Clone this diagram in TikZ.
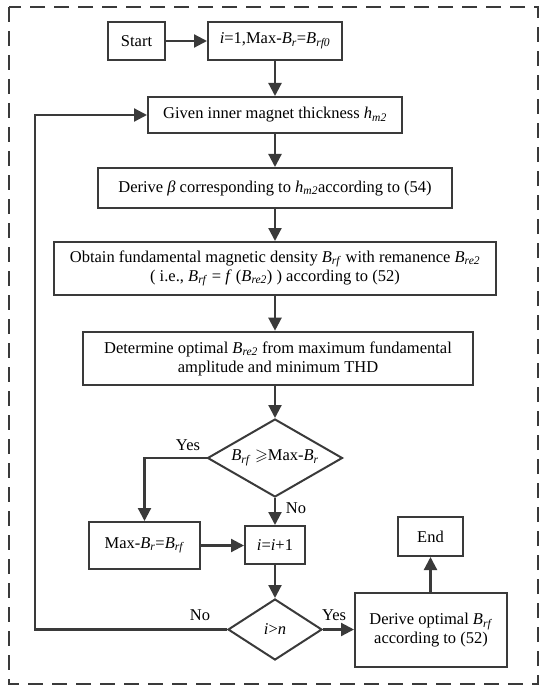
\documentclass[tikz,border=0pt]{standalone}
\usepackage{fontspec}
\usepackage{amssymb}
\setmainfont{Liberation Serif}
\usetikzlibrary{arrows.meta,shapes.geometric}
\newcommand{\vb}[2]{\textit{#1}\textsubscript{\textit{#2}}}
\definecolor{ink}{HTML}{3A3A3A}
\tikzset{
  box/.style={draw=ink, line width=2pt, rectangle, inner sep=0pt, align=center, font=\fontsize{16.5}{19}\selectfont},
  dia/.style={draw=ink, line width=2pt, diamond, inner sep=0pt, align=center, font=\fontsize{16.5}{19}\selectfont},
  arr/.style={draw=ink, line width=2.2pt, -{Triangle[length=13pt,width=13pt]}},
  lbl/.style={font=\fontsize{16.5}{19}\selectfont, inner sep=0pt}
}
\begin{document}
\begin{tikzpicture}[x=1pt,y=-1pt]
\useasboundingbox (0,0) rectangle (545,687);
\draw[ink, line width=2pt, dash pattern=on 15pt off 9pt] (9,7) rectangle (538,684);
\node[box, minimum width=57, minimum height=38] (start) at (136.5,41) {Start};
\node[box, minimum width=134, minimum height=38] (init) at (275,41) {\textit{i}=1,Max-\vb{B}{r}=\vb{B}{rf0}};
\node[box, minimum width=254, minimum height=36] (given) at (275,115) {Given inner magnet thickness \vb{h}{m2}};
\node[box, minimum width=354, minimum height=40] (derive) at (275,188) {Derive \textit{β} corresponding to \vb{h}{m2}according to (54)};
\node[box, minimum width=442, minimum height=53] (obtain) at (275,268.5) {Obtain fundamental magnetic density \vb{B}{rf} with remanence \vb{B}{re2}\\( i.e., \vb{B}{rf} = \textit{f} (\vb{B}{re2}) ) according to (52)};
\node[box, line width=2.6pt, minimum width=390, minimum height=53] (determ) at (278,358.5) {Determine optimal \vb{B}{re2} from maximum fundamental\\amplitude and minimum THD};
\node[dia, aspect=1.73, minimum width=135, minimum height=78] (d1) at (275,458) {\vb{B}{rf} $\geqslant$Max-\vb{B}{r}};
\node[box, minimum width=111, minimum height=47] (maxb) at (144.5,545.5) {Max-\vb{B}{r}=\vb{B}{rf}};
\node[box, minimum width=60, minimum height=38] (inc) at (275,545) {\textit{i}=\textit{i}+1};
\node[box, minimum width=65, minimum height=39] (endb) at (430.5,536.5) {End};
\node[dia, aspect=1.54, minimum width=94, minimum height=61] (d2) at (275,629.5) {\textit{i}>\textit{n}};
\node[box, minimum width=152, minimum height=74] (dopt) at (431,630) {Derive optimal \vb{B}{rf}\\according to (52)};
\coordinate (lb) at (35,629.5);
\coordinate (lt) at (35,115);
\draw[arr] (start) -- (init);
\draw[arr] (init) -- (given);
\draw[arr] (given) -- (derive);
\draw[arr] (derive) -- (obtain);
\draw[arr] (obtain.south) -- (obtain.south |- determ.north);
\draw[arr] (d1.north |- determ.south) -- (d1.north);
\draw[arr] (d1.west) -| (maxb.north);
\draw[arr] (d1.south) -- (inc.north);
\draw[arr] (maxb.east) -- (maxb.east -| inc.west);
\draw[arr] (inc.south) -- (d2.north);
\draw[arr] (d2.east) -- (d2.east -| dopt.west);
\draw[arr] (dopt.north -| endb.south) -- (endb.south);
\draw[arr] (d2.west) -- (lb) -- (lt) -- (given.west);
\node[lbl] (yes1) at (188,445) {Yes};
\node[lbl] (no1) at (296,508) {No};
\node[lbl] (no2) at (200,615) {No};
\node[lbl] (yes2) at (334,615) {Yes};
\end{tikzpicture}
\end{document}
